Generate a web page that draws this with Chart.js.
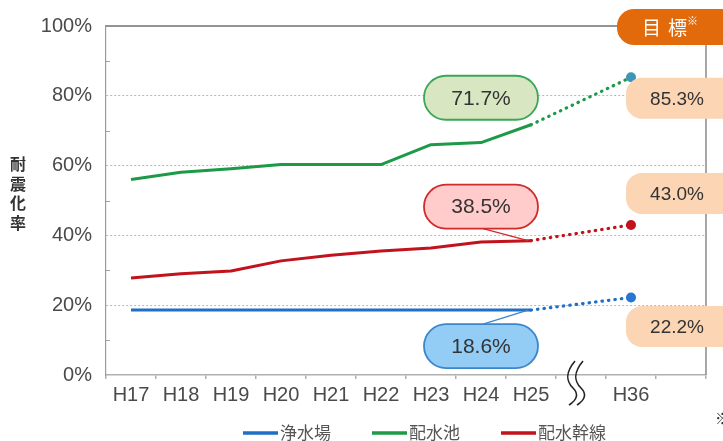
<!DOCTYPE html>
<html>
<head>
<meta charset="utf-8">
<script src="https://cdn.jsdelivr.net/npm/chart.js@4.4.1/dist/chart.umd.min.js"></script>
<style>
  html, body { margin: 0; padding: 0; background: #ffffff; }
  canvas { display: block; }
</style>
</head>
<body>
<canvas id="chart" width="723" height="441"></canvas>
<script>
// Fiscal years (Heisei); the empty slot after H25 holds the axis break
const categories = ['H17', 'H18', 'H19', 'H20', 'H21', 'H22', 'H23', 'H24', 'H25', '', 'H36', ''];
const seriesNames = ['浄水場', '配水池', '配水幹線'];

// Seismic retrofit rate (%) H17–H25
const purificationPlants = [18.6, 18.6, 18.6, 18.6, 18.6, 18.6, 18.6, 18.6, 18.6];
const reservoirs = [56.0, 58.1, 59.1, 60.3, 60.3, 60.3, 66.0, 66.6, 71.7];
const trunkMains = [27.8, 29.0, 29.8, 32.7, 34.3, 35.5, 36.4, 38.1, 38.5];

// Targets for H36, in the same order as seriesNames
const targetValues = [22.2, 85.3, 43.0];

const yTickStep = 20;
const yTitle = '耐震化率';
const targetBanner = ['目', '標', '※'];
const footnoteMark = '※';

const actualSeries = [purificationPlants, reservoirs, trunkMains];
const lastIndex = actualSeries[0].length - 1;
const targetIndex = categories.indexOf('H36');
const breakIndex = lastIndex + 1;

// Styling
const lineColors = ['#1f6fc4', '#1c9a47', '#c2121c'];
const targetDotColors = ['#2677d0', '#3d96b6', '#c2121c'];
const calloutFill = ['#93cdf6', '#d8e6c1', '#ffcbcb'];
const calloutStroke = ['#3b86cb', '#39a757', '#cf2b2b'];
const calloutOffsetY = [36, -27, -34];
const calloutTail = [true, false, true];
const targetOffsetY = [29, 21, -31.5];
const NUM_FONT = '"Liberation Sans", Arial, sans-serif';
const CJK_FONT = '"Noto Sans CJK JP", "Noto Sans", sans-serif';

const datasets = [];
actualSeries.forEach((values, i) => {
  datasets.push({
    label: seriesNames[i],
    data: values,
    borderColor: lineColors[i],
    backgroundColor: lineColors[i],
    borderWidth: 3,
    pointRadius: 0,
    tension: 0,
    borderJoinStyle: 'round'
  });
});
actualSeries.forEach((values, i) => {
  const projection = categories.map((_, k) =>
    k === lastIndex ? values[lastIndex] : (k === targetIndex ? targetValues[i] : null));
  datasets.push({
    label: seriesNames[i] + ' 目標',
    data: projection,
    spanGaps: true,
    borderColor: lineColors[i],
    backgroundColor: targetDotColors[i],
    borderWidth: 3.2,
    borderDash: [0.5, 6],
    borderCapStyle: 'round',
    pointRadius: ctx => ctx.dataIndex === targetIndex ? 5 : 0,
    pointBorderWidth: 0,
    pointBackgroundColor: targetDotColors[i],
    tension: 0
  });
});

function roundRectPath(ctx, x, y, w, h, r) {
  ctx.beginPath();
  ctx.moveTo(x + r, y);
  ctx.lineTo(x + w - r, y);
  ctx.arcTo(x + w, y, x + w, y + r, r);
  ctx.lineTo(x + w, y + h - r);
  ctx.arcTo(x + w, y + h, x + w - r, y + h, r);
  ctx.lineTo(x + r, y + h);
  ctx.arcTo(x, y + h, x, y + h - r, r);
  ctx.lineTo(x, y + r);
  ctx.arcTo(x, y, x + r, y, r);
  ctx.closePath();
}

const decorations = {
  id: 'decorations',
  beforeDatasetsDraw(chart) {
    const {ctx, chartArea: a, scales: {y}} = chart;
    ctx.save();
    // minor inward ticks on the value axis
    ctx.strokeStyle = '#a0a0a0';
    ctx.lineWidth = 1;
    for (let v = yTickStep / 2; v < 100; v += yTickStep) {
      const py = Math.round(y.getPixelForValue(v)) + 0.5;
      ctx.beginPath();
      ctx.moveTo(a.left, py);
      ctx.lineTo(a.left + 4, py);
      ctx.stroke();
    }
    // frame: top and right edges
    ctx.strokeStyle = '#707070';
    ctx.lineWidth = 1.5;
    ctx.beginPath();
    ctx.moveTo(a.left, a.top);
    ctx.lineTo(a.right, a.top);
    ctx.stroke();
    ctx.strokeStyle = '#8a8a8a';
    ctx.beginPath();
    ctx.moveTo(a.right, a.top);
    ctx.lineTo(a.right, a.bottom);
    ctx.stroke();
    ctx.restore();
  },
  afterDatasetsDraw(chart) {
    const {ctx, chartArea: a, scales: {x, y}} = chart;
    ctx.save();

    // callouts for the latest actual value
    actualSeries.forEach((values, i) => {
      const px = x.getPixelForValue(lastIndex);
      const py = y.getPixelForValue(values[lastIndex]);
      const w = 114, h = 44;
      const cx = px - 50;
      const cy = py + calloutOffsetY[i];
      if (calloutTail[i]) {
        const sy = calloutOffsetY[i] > 0 ? cy - h / 2 : cy + h / 2;
        ctx.strokeStyle = calloutStroke[i];
        ctx.lineWidth = 1.3;
        ctx.beginPath();
        ctx.moveTo(cx + 2, sy);
        ctx.lineTo(px - 3, py);
        ctx.stroke();
      }
      roundRectPath(ctx, cx - w / 2, cy - h / 2, w, h, h / 2);
      ctx.fillStyle = calloutFill[i];
      ctx.fill();
      ctx.strokeStyle = calloutStroke[i];
      ctx.lineWidth = 1.8;
      ctx.stroke();
      ctx.fillStyle = '#333333';
      ctx.font = '21px ' + NUM_FONT;
      ctx.textAlign = 'center';
      ctx.textBaseline = 'middle';
      ctx.fillText(values[lastIndex].toFixed(1) + '%', cx, cy + 1);
    });

    // target value boxes at the right edge
    targetValues.forEach((v, i) => {
      const px = x.getPixelForValue(targetIndex);
      const py = y.getPixelForValue(v);
      const cy = py + targetOffsetY[i];
      const h = 41;
      roundRectPath(ctx, px - 5, cy - h / 2, 130, h, 16);
      ctx.fillStyle = '#fbd5b4';
      ctx.fill();
      ctx.fillStyle = '#333333';
      ctx.font = '19px ' + NUM_FONT;
      ctx.textAlign = 'center';
      ctx.textBaseline = 'middle';
      ctx.fillText(v.toFixed(1) + '%', px + 46, cy + 1);
    });

    // "目標" banner above the target column
    {
      const px = x.getPixelForValue(targetIndex);
      const bx = px - 14, by = a.top - 17, bh = 36;
      roundRectPath(ctx, bx, by, 140, bh, 17);
      ctx.fillStyle = '#e36a0b';
      ctx.fill();
      ctx.fillStyle = '#ffffff';
      ctx.textAlign = 'left';
      ctx.textBaseline = 'middle';
      ctx.font = '19px ' + CJK_FONT;
      ctx.fillText(targetBanner[0], bx + 25, by + bh / 2 + 1);
      ctx.fillText(targetBanner[1], bx + 51, by + bh / 2 + 1);
      ctx.font = '11px ' + CJK_FONT;
      ctx.fillText(targetBanner[2], bx + 70, by + 12);
    }

    // axis break mark between H25 and H36
    {
      const bx = x.getPixelForValue(breakIndex);
      ctx.strokeStyle = '#222222';
      ctx.lineWidth = 1.6;
      [-9, -1].forEach(dx => {
        const cx = bx + dx;
        ctx.beginPath();
        ctx.moveTo(cx + 3, a.bottom - 14);
        ctx.bezierCurveTo(cx - 7, a.bottom - 2, cx - 6, a.bottom + 6, cx + 1, a.bottom + 13);
        ctx.bezierCurveTo(cx + 7, a.bottom + 19, cx + 5, a.bottom + 25, cx - 3, a.bottom + 30);
        ctx.stroke();
      });
    }

    // vertical axis title
    ctx.fillStyle = '#333333';
    ctx.font = 'bold 16px ' + CJK_FONT;
    ctx.textAlign = 'center';
    ctx.textBaseline = 'middle';
    [...yTitle].forEach((ch, k) => ctx.fillText(ch, 18, 164 + k * 19.5));

    // legend
    {
      let lx = 243;
      const ly = 433;
      ctx.font = '17px ' + CJK_FONT;
      ctx.textAlign = 'left';
      ctx.textBaseline = 'middle';
      seriesNames.forEach((name, i) => {
        ctx.strokeStyle = lineColors[i];
        ctx.lineWidth = 3.5;
        ctx.beginPath();
        ctx.moveTo(lx, ly);
        ctx.lineTo(lx + 35, ly);
        ctx.stroke();
        ctx.fillStyle = '#555555';
        ctx.fillText(name, lx + 37, ly);
        lx += 37 + ctx.measureText(name).width + 41;
      });
    }

    // footnote mark at the right edge
    ctx.fillStyle = '#333333';
    ctx.font = '15px ' + CJK_FONT;
    ctx.textAlign = 'left';
    ctx.textBaseline = 'middle';
    ctx.fillText(footnoteMark, 715, 418);

    ctx.restore();
  }
};

new Chart(document.getElementById('chart'), {
  type: 'line',
  data: { labels: categories, datasets },
  options: {
    responsive: false,
    devicePixelRatio: 1,
    animation: false,
    layout: { padding: { top: 25, right: 17, left: 0, bottom: 0 } },
    plugins: {
      legend: { display: false },
      tooltip: { enabled: false }
    },
    scales: {
      x: {
        type: 'category',
        offset: true,
        grid: {
          display: true,
          drawOnChartArea: false,
          drawTicks: true,
          tickLength: 4,
          offset: true,
          color: '#b0b0b0',
          lineWidth: 1.5
        },
        border: { display: true, color: '#b0b0b0', width: 1.5 },
        ticks: {
          color: '#4a4a4a',
          font: { family: NUM_FONT, size: 20 },
          padding: 4,
          maxRotation: 0,
          autoSkip: false
        },
        afterFit(scale) { scale.height = 66; }
      },
      y: {
        min: 0,
        max: 100,
        ticks: {
          stepSize: yTickStep,
          callback: v => v + '%',
          color: '#4a4a4a',
          font: { family: NUM_FONT, size: 20 },
          padding: 14
        },
        grid: {
          drawTicks: false,
          color: c => (c.tick && (c.tick.value === 0 || c.tick.value === 100)) ? 'rgba(0,0,0,0)' : '#b8b8b8',
          lineWidth: 1
        },
        border: { display: true, color: '#9a9a9a', width: 1.2, dash: [2, 2] },
        afterFit(scale) { scale.width = 106; }
      }
    }
  },
  plugins: [decorations]
});
</script>
</body>
</html>
